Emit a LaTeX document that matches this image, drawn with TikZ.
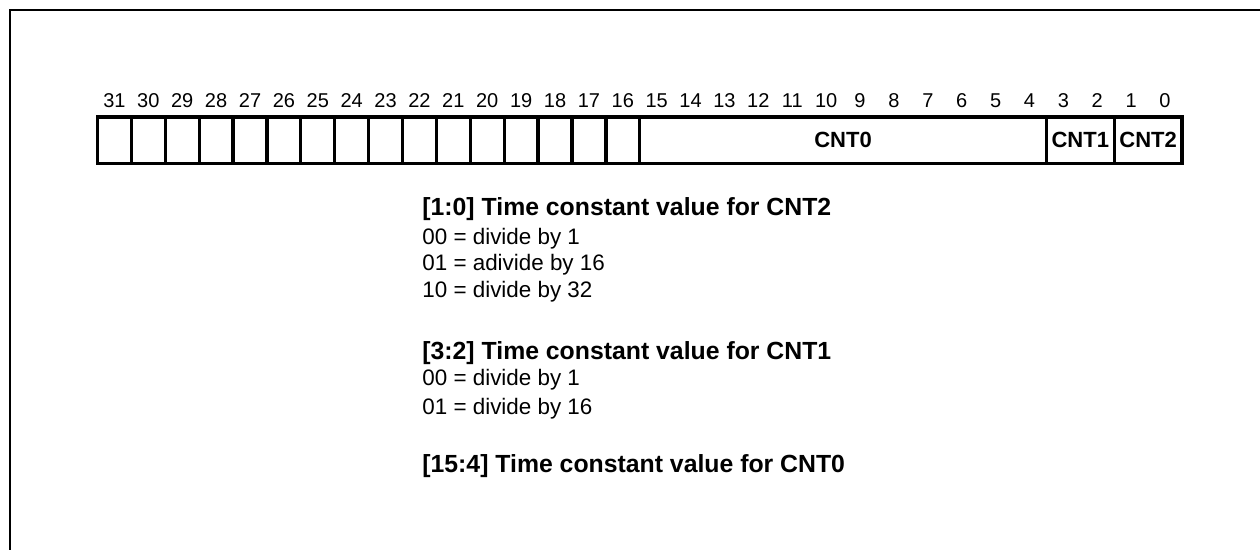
\documentclass[tikz,border=0pt]{standalone}
\usepackage{fontspec}
\setmainfont{Liberation Sans}
\usetikzlibrary{positioning}

\begin{document}
\begin{tikzpicture}[x=0.5pt, y=-0.5pt,
  bitcell/.style={draw, line width=1.65pt, inner sep=0pt, outer sep=0pt,
                  minimum height=23.25pt, font=\bfseries\fontsize{11}{13}\selectfont},
  bitnum/.style={anchor=base, inner sep=0pt, font=\fontsize{10}{12}\selectfont},
  fhead/.style={anchor=base west, inner sep=0pt, font=\bfseries\fontsize{12.4}{14}\selectfont},
  fline/.style={anchor=base west, inner sep=0pt, font=\fontsize{11.2}{13}\selectfont},
]
\useasboundingbox (0,0) rectangle (1260,550);
\draw[line width=1.2pt] (10,550) -- (10,10) -- (1260,10);

\foreach \b in {0,...,31} {
  \node[bitnum] (n\b) at ({97.5+(31-\b+0.5)*33.89},107.7) {\b};
}
\foreach \b in {16,...,31} {
  \node[bitcell, minimum width=16.945pt] (b\b) at ({97.5+(31-\b+0.5)*33.89},140.25) {};
}
\node[bitcell, minimum width=12*16.945pt] (cnt0) at ({97.5+22*33.89},140.25) {CNT0};
\node[bitcell, minimum width=2*16.945pt] (cnt1) at ({97.5+29*33.89},140.25) {CNT1};
\node[bitcell, minimum width=2*16.945pt] (cnt2) at ({97.5+31*33.89},140.25) {CNT2};

\node[fhead] (h2) at (422,215.7) {[1:0] Time constant value for CNT2};
\node[fline] (h2a) at (422,244.2) {00 = divide by 1};
\node[fline] (h2b) at (422,271) {01 = adivide by 16};
\node[fline] (h2c) at (422,297.5) {10 = divide by 32};

\node[fhead] (h1) at (422,359.3) {[3:2] Time constant value for CNT1};
\node[fline] (h1a) at (422,385.7) {00 = divide by 1};
\node[fline] (h1b) at (422,415) {01 = divide by 16};

\node[fhead] (h0) at (422,473) {[15:4] Time constant value for CNT0};
\end{tikzpicture}
\end{document}
